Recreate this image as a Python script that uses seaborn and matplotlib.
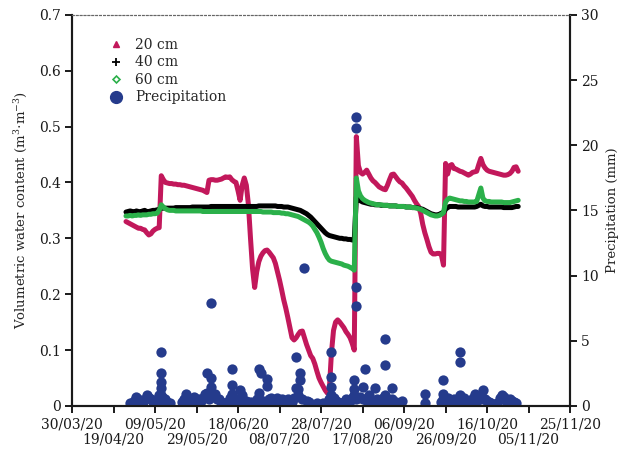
#!/usr/bin/env python3
# Soil volumetric water content at three depths + precipitation (dual axis)
import matplotlib
matplotlib.use("Agg")
import matplotlib.pyplot as plt
from matplotlib.lines import Line2D
import pandas as pd
import seaborn as sns

# daily sensor readings, 25/04/20 -> 31/10/20
start_day = "2020-04-25"
end_day = "2020-10-31"

vwc_20cm = [
    0.330, 0.328, 0.326, 0.324, 0.322, 0.320, 0.318, 0.318, 0.316, 0.315,
    0.310, 0.306, 0.308, 0.313, 0.316, 0.318, 0.319, 0.412, 0.405, 0.400,
    0.399, 0.398, 0.398, 0.397, 0.397, 0.396, 0.396, 0.395, 0.395, 0.394,
    0.393, 0.392, 0.391, 0.390, 0.389, 0.388, 0.387, 0.386, 0.384, 0.382,
    0.404, 0.405, 0.405, 0.404, 0.404, 0.405, 0.406, 0.408, 0.410, 0.409,
    0.410, 0.405, 0.402, 0.400, 0.385, 0.368, 0.395, 0.408, 0.395, 0.360,
    0.300, 0.245, 0.212, 0.240, 0.258, 0.268, 0.274, 0.278, 0.279, 0.275,
    0.270, 0.265, 0.255, 0.240, 0.225, 0.208, 0.190, 0.175, 0.158, 0.140,
    0.122, 0.118, 0.122, 0.128, 0.133, 0.134, 0.122, 0.110, 0.100, 0.090,
    0.085, 0.075, 0.062, 0.050, 0.042, 0.035, 0.028, 0.023, 0.030, 0.095,
    0.135, 0.150, 0.154, 0.150, 0.145, 0.140, 0.133, 0.128, 0.122, 0.112,
    0.100, 0.482, 0.430, 0.418, 0.415, 0.418, 0.422, 0.415, 0.408, 0.403,
    0.400, 0.396, 0.392, 0.390, 0.388, 0.387, 0.395, 0.405, 0.414, 0.415,
    0.410, 0.405, 0.401, 0.399, 0.394, 0.390, 0.385, 0.380, 0.375, 0.368,
    0.362, 0.357, 0.345, 0.325, 0.310, 0.298, 0.285, 0.275, 0.272, 0.272,
    0.273, 0.273, 0.270, 0.252, 0.434, 0.415, 0.430, 0.432, 0.425, 0.424,
    0.422, 0.420, 0.419, 0.417, 0.415, 0.413, 0.415, 0.418, 0.419, 0.420,
    0.432, 0.443, 0.432, 0.426, 0.422, 0.420, 0.419, 0.418, 0.417, 0.416,
    0.415, 0.414, 0.413, 0.413, 0.414, 0.416, 0.420, 0.427, 0.428, 0.420,
]

vwc_40cm = [
    0.347, 0.348, 0.349, 0.348, 0.347, 0.349, 0.348, 0.347, 0.349, 0.350,
    0.348, 0.348, 0.349, 0.350, 0.350, 0.351, 0.352, 0.354, 0.354, 0.354,
    0.354, 0.354, 0.354, 0.354, 0.355, 0.355, 0.355, 0.355, 0.355, 0.355,
    0.355, 0.355, 0.356, 0.356, 0.356, 0.356, 0.356, 0.356, 0.356, 0.356,
    0.356, 0.357, 0.357, 0.357, 0.357, 0.357, 0.357, 0.357, 0.357, 0.357,
    0.357, 0.357, 0.357, 0.357, 0.357, 0.357, 0.357, 0.357, 0.357, 0.357,
    0.357, 0.357, 0.357, 0.357, 0.358, 0.358, 0.358, 0.358, 0.358, 0.358,
    0.358, 0.358, 0.358, 0.357, 0.357, 0.357, 0.356, 0.356, 0.356, 0.355,
    0.354, 0.353, 0.352, 0.351, 0.350, 0.348, 0.346, 0.344, 0.341, 0.338,
    0.334, 0.330, 0.326, 0.322, 0.318, 0.314, 0.310, 0.307, 0.305, 0.304,
    0.303, 0.302, 0.301, 0.300, 0.300, 0.299, 0.299, 0.298, 0.298, 0.297,
    0.297, 0.374, 0.370, 0.367, 0.365, 0.364, 0.363, 0.362, 0.361, 0.361,
    0.360, 0.360, 0.360, 0.359, 0.359, 0.359, 0.359, 0.358, 0.358, 0.358,
    0.358, 0.357, 0.357, 0.357, 0.357, 0.356, 0.356, 0.356, 0.355, 0.355,
    0.355, 0.354, 0.353, 0.352, 0.350, 0.348, 0.346, 0.344, 0.343, 0.342,
    0.342, 0.343, 0.345, 0.346, 0.352, 0.355, 0.357, 0.357, 0.357, 0.357,
    0.356, 0.356, 0.356, 0.356, 0.356, 0.356, 0.356, 0.356, 0.356, 0.357,
    0.359, 0.361, 0.358, 0.357, 0.357, 0.356, 0.356, 0.356, 0.356, 0.356,
    0.356, 0.356, 0.355, 0.355, 0.355, 0.355, 0.355, 0.356, 0.357, 0.357,
]

vwc_60cm = [
    0.340, 0.340, 0.341, 0.340, 0.341, 0.341, 0.342, 0.341, 0.342, 0.342,
    0.342, 0.343, 0.343, 0.344, 0.344, 0.345, 0.350, 0.360, 0.356, 0.353,
    0.351, 0.350, 0.350, 0.350, 0.349, 0.349, 0.349, 0.349, 0.349, 0.349,
    0.349, 0.349, 0.349, 0.349, 0.349, 0.349, 0.349, 0.348, 0.348, 0.348,
    0.348, 0.348, 0.348, 0.348, 0.348, 0.348, 0.348, 0.348, 0.348, 0.348,
    0.348, 0.348, 0.348, 0.348, 0.348, 0.348, 0.348, 0.348, 0.348, 0.348,
    0.348, 0.348, 0.348, 0.348, 0.348, 0.348, 0.347, 0.347, 0.347, 0.347,
    0.347, 0.346, 0.346, 0.346, 0.346, 0.345, 0.345, 0.344, 0.344, 0.343,
    0.342, 0.341, 0.340, 0.339, 0.337, 0.335, 0.333, 0.331, 0.329, 0.326,
    0.322, 0.316, 0.310, 0.302, 0.293, 0.282, 0.273, 0.266, 0.261, 0.259,
    0.258, 0.257, 0.256, 0.255, 0.254, 0.252, 0.251, 0.250, 0.248, 0.246,
    0.243, 0.408, 0.385, 0.376, 0.371, 0.368, 0.366, 0.364, 0.363, 0.362,
    0.361, 0.360, 0.360, 0.360, 0.359, 0.359, 0.359, 0.358, 0.358, 0.358,
    0.358, 0.357, 0.357, 0.357, 0.357, 0.356, 0.356, 0.356, 0.355, 0.355,
    0.354, 0.353, 0.352, 0.350, 0.348, 0.346, 0.344, 0.342, 0.341, 0.340,
    0.340, 0.341, 0.343, 0.346, 0.365, 0.370, 0.372, 0.371, 0.370, 0.369,
    0.368, 0.367, 0.367, 0.366, 0.366, 0.365, 0.365, 0.365, 0.365, 0.366,
    0.378, 0.390, 0.372, 0.367, 0.366, 0.366, 0.365, 0.365, 0.365, 0.365,
    0.365, 0.365, 0.364, 0.364, 0.364, 0.364, 0.365, 0.366, 0.367, 0.368,
]

# precipitation readings (several per day on wet days)
precip_dates = [
    "2020-04-27", "2020-04-29", "2020-05-01", "2020-05-03", "2020-05-05",
    "2020-05-07", "2020-05-10", "2020-05-11",
    "2020-05-12", "2020-05-12", "2020-05-12", "2020-05-12", "2020-05-12", "2020-05-12",
    "2020-05-13", "2020-05-14", "2020-05-16", "2020-05-22", "2020-05-24",
    "2020-05-26", "2020-05-28", "2020-05-30", "2020-06-01", "2020-06-02",
    "2020-06-03", "2020-06-04",
    "2020-06-05", "2020-06-05", "2020-06-05", "2020-06-05",
    "2020-06-06", "2020-06-08", "2020-06-10", "2020-06-12",
    "2020-06-15", "2020-06-15", "2020-06-15", "2020-06-15",
    "2020-06-16", "2020-06-18", "2020-06-19", "2020-06-20", "2020-06-22",
    "2020-06-24", "2020-06-26", "2020-06-27",
    "2020-06-28", "2020-06-28", "2020-06-28",
    "2020-06-29", "2020-06-30", "2020-07-02", "2020-07-02",
    "2020-07-03", "2020-07-05", "2020-07-07", "2020-07-09", "2020-07-10",
    "2020-07-12", "2020-07-14",
    "2020-07-16", "2020-07-16", "2020-07-17", "2020-07-17",
    "2020-07-18", "2020-07-18", "2020-07-20", "2020-07-21", "2020-07-26",
    "2020-07-29",
    "2020-08-02", "2020-08-02", "2020-08-02", "2020-08-02", "2020-08-02",
    "2020-08-03", "2020-08-05", "2020-08-09", "2020-08-11",
    "2020-08-13", "2020-08-13", "2020-08-13",
    "2020-08-14", "2020-08-14", "2020-08-14", "2020-08-14", "2020-08-14",
    "2020-08-15", "2020-08-17", "2020-08-17", "2020-08-18", "2020-08-19",
    "2020-08-21", "2020-08-23", "2020-08-24", "2020-08-26",
    "2020-08-28", "2020-08-28", "2020-08-28",
    "2020-08-29", "2020-08-31", "2020-08-31", "2020-09-02", "2020-09-05",
    "2020-09-16", "2020-09-16",
    "2020-09-25", "2020-09-25", "2020-09-25",
    "2020-09-26", "2020-09-28", "2020-09-30",
    "2020-10-03", "2020-10-03", "2020-10-03",
    "2020-10-04", "2020-10-07", "2020-10-10", "2020-10-11",
    "2020-10-14", "2020-10-14", "2020-10-15", "2020-10-17", "2020-10-21",
    "2020-10-23", "2020-10-25", "2020-10-27", "2020-10-28", "2020-10-30",
    # light readings
    "2020-04-28", "2020-04-30", "2020-05-02", "2020-05-04", "2020-05-06",
    "2020-05-08", "2020-05-09", "2020-05-15",
    "2020-05-23", "2020-05-25", "2020-05-27", "2020-05-29", "2020-05-31",
    "2020-06-03", "2020-06-07", "2020-06-09", "2020-06-11", "2020-06-13",
    "2020-06-14", "2020-06-17", "2020-06-21", "2020-06-23",
    "2020-07-01", "2020-07-04", "2020-07-06",
    "2020-07-11", "2020-07-13", "2020-07-15", "2020-07-19", "2020-07-22",
    "2020-07-31", "2020-08-01", "2020-08-04", "2020-08-06", "2020-08-08",
    "2020-08-10", "2020-08-12", "2020-08-16", "2020-08-20", "2020-08-22",
    "2020-08-25", "2020-08-27", "2020-08-30", "2020-09-01", "2020-09-03",
    "2020-09-24", "2020-09-27", "2020-09-29", "2020-10-01", "2020-10-02",
    "2020-10-05", "2020-10-06", "2020-10-08", "2020-10-09", "2020-10-12",
    "2020-10-13", "2020-10-16", "2020-10-18", "2020-10-22", "2020-10-24",
    "2020-10-26", "2020-10-29",
]
precip_mm = [
    0.2, 0.4, 0.56, 0.3, 0.82,
    0.5, 0.4, 0.8,
    4.12, 2.56, 1.8, 1.4, 0.8, 0.4,
    0.6, 0.56, 0.2, 0.3, 0.95,
    0.4, 0.7, 0.5, 0.6, 0.95,
    2.56, 0.5,
    7.9, 2.15, 1.45, 0.7,
    0.8, 0.56, 0.3, 0.2,
    2.81, 1.58, 0.95, 0.4,
    0.6, 0.4, 1.2, 0.8, 0.4,
    0.3, 0.2, 0.5,
    2.81, 1.0, 0.56,
    2.5, 0.4, 2.1, 1.52,
    0.5, 0.3, 0.6, 0.5, 0.3,
    0.56, 0.3,
    3.78, 1.38, 1.33, 0.8,
    2.5, 2.0, 10.6, 0.4, 0.25,
    0.2,
    4.17, 2.25, 1.45, 0.8, 0.4,
    0.6, 0.3, 0.56, 0.4,
    1.97, 1.33, 0.8,
    22.2, 21.3, 9.1, 7.7, 0.5,
    0.6, 1.45, 0.56, 2.81, 0.4,
    0.3, 1.4, 0.5, 0.3,
    5.14, 3.15, 0.8,
    0.5, 1.37, 0.5, 0.3, 0.35,
    0.95, 0.25,
    1.97, 0.95, 0.56,
    0.4, 0.3, 0.5,
    4.12, 3.35, 0.8,
    0.4, 0.3, 0.95, 0.4,
    1.2, 0.56, 0.5, 0.3, 0.2,
    0.8, 0.4, 0.5, 0.4, 0.2,
    # light readings
    0.15, 0.7, 0.4, 0.5, 0.6,
    0.3, 0.2, 0.3,
    0.5, 0.6, 0.3, 0.2, 0.4,
    1.0, 0.9, 0.5, 0.2, 0.3,
    0.6, 0.3, 0.2, 0.3,
    0.3, 0.6, 0.2,
    0.2, 0.4, 0.6, 0.5, 0.3,
    0.2, 0.5, 0.4, 0.2, 0.3,
    0.4, 0.6, 0.7, 0.8, 0.3,
    0.4, 0.6, 0.3, 0.2, 0.2,
    0.3, 0.6, 0.2, 0.3, 0.5,
    0.6, 0.2, 0.4, 0.6, 0.7,
    0.8, 0.4, 0.2, 0.6, 0.7,
    0.3, 0.3,
]

tick_start = "2020-03-30"
tick_end = "2020-11-25"

red = "#c2185b"
green = "#2bb04a"
navy = "#253b8c"

sns.set_theme(style="ticks")
plt.rcParams['font.family'] = ['DejaVu Serif']
plt.rcParams['mathtext.fontset'] = 'dejavuserif'

days = pd.date_range(start_day, end_day, freq="D")
soil = pd.DataFrame({"date": days, "20 cm": vwc_20cm,
                     "40 cm": vwc_40cm, "60 cm": vwc_60cm})
rain = pd.DataFrame({"date": pd.to_datetime(precip_dates), "mm": precip_mm})

fig = plt.figure(figsize=(6.21, 4.5), dpi=100)
ax = fig.add_axes([0.116, 0.098, 0.802, 0.869])

sns.lineplot(data=soil, x="date", y="20 cm", ax=ax, color=red, lw=3.6,
             estimator=None, sort=False)
sns.lineplot(data=soil, x="date", y="40 cm", ax=ax, color="black", lw=3.6,
             estimator=None, sort=False)
sns.lineplot(data=soil, x="date", y="60 cm", ax=ax, color=green, lw=3.6,
             estimator=None, sort=False)

ax2 = ax.twinx()
sns.scatterplot(data=rain, x="date", y="mm", ax=ax2, color=navy, s=55,
                linewidth=0)

# date ticks: every 20 days, labels staggered on two rows
ticks = pd.date_range(tick_start, tick_end, freq="20D")
upper = ticks[::2]
lower = ticks[1::2]
ax.set_xlim(pd.Timestamp(tick_start), pd.Timestamp(tick_end))
ax.set_xticks(upper)
ax.set_xticklabels([t.strftime("%d/%m/%y") for t in upper], fontsize=10)
ax.set_xticks(lower, minor=True)
ax.set_xticklabels([t.strftime("%d/%m/%y") for t in lower], minor=True, fontsize=10)
ax.tick_params(axis="x", which="minor", length=5, width=1.4, pad=14)

ax.set_ylim(0, 0.7)
ax.set_yticks([0, 0.1, 0.2, 0.3, 0.4, 0.5, 0.6, 0.7])
ax.set_yticklabels(["0", "0.1", "0.2", "0.3", "0.4", "0.5", "0.6", "0.7"], fontsize=10)
ax2.set_ylim(0, 30)
ax2.set_yticks([0, 5, 10, 15, 20, 25, 30])
ax2.set_yticklabels(["0", "5", "10", "15", "20", "25", "30"], fontsize=10)

ax.set_xlabel("")
ax.set_ylabel(r"Volumetric water content (m$^3$$\cdot$m$^{-3}$)", fontsize=9.5, labelpad=7)
ax2.set_ylabel("Precipitation (mm)", fontsize=9.5, labelpad=5)

for a in (ax, ax2):
    a.tick_params(which="major", direction="out", length=5, width=1.4,
                  colors="#1a1a1a", pad=3)
    for side in ("left", "right", "bottom"):
        a.spines[side].set_linewidth(1.5)
        a.spines[side].set_color("#1a1a1a")
    a.spines["top"].set_linewidth(0.8)
    a.spines["top"].set_linestyle((0, (1.5, 2)))
    a.spines["top"].set_color("#666666")
ax.tick_params(axis="x", which="minor", direction="out", colors="#1a1a1a")

handles = [
    Line2D([], [], ls="none", marker="^", ms=4, color=red),
    Line2D([], [], ls="none", marker="+", ms=6, mew=1.3, color="black"),
    Line2D([], [], ls="none", marker="D", ms=3.5, mfc="white", mec=green, mew=1.2),
    Line2D([], [], ls="none", marker="o", ms=8.5, color=navy),
]
ax2.legend(handles, ["20 cm", "40 cm", "60 cm", "Precipitation"],
           loc="upper left", bbox_to_anchor=(0.06, 0.955), frameon=False,
           fontsize=10, handlelength=1.2, handletextpad=0.8, labelspacing=0.25,
           borderaxespad=0)

plt.savefig("out.png", dpi=100)
